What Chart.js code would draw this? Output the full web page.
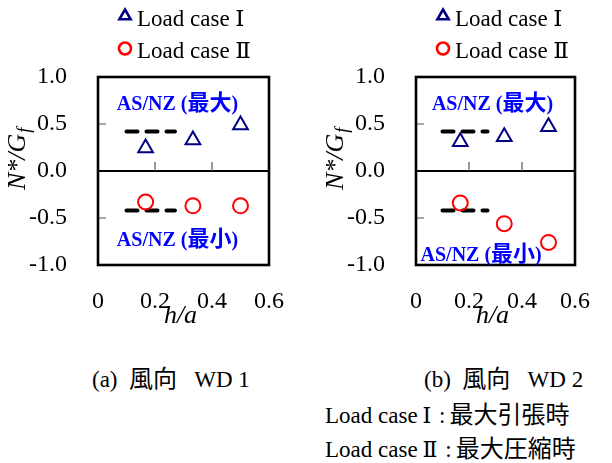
<!DOCTYPE html>
<html>
<head>
<meta charset="utf-8">
<script src="https://cdn.jsdelivr.net/npm/chart.js@4/dist/chart.umd.min.js"></script>
<style>
  html, body { margin: 0; padding: 0; background: #fff; }
  #wrap { position: relative; width: 612px; height: 463px; overflow: hidden; color: #000; }
  .panel { position: absolute; top: 0; width: 306px; height: 340px; }
  .cap { position: absolute; font-size: 23px; line-height: 1; white-space: pre; }
  .lat { font-family: "Liberation Serif", serif; }
  .num { font-family: "DejaVu Serif", "Liberation Serif", serif; font-size: 22px; margin-left: 5px; margin-right: 2px; }
  .cjk { font-family: "Noto Sans CJK JP", sans-serif; font-size: 24px; }
  .colon { margin-right: 4px; }
</style>
</head>
<body>
<div id="wrap">
  <div class="panel" style="left:0"><canvas id="wd1" width="306" height="340"></canvas></div>
  <div class="panel" style="left:306px"><canvas id="wd2" width="306" height="340"></canvas></div>
  <div class="cap" style="left:92px;top:365px"><span class="lat">(a)  </span><span class="cjk">風向</span><span class="lat">   WD 1</span></div>
  <div class="cap" style="left:424px;top:365px"><span class="lat">(b)  </span><span class="cjk">風向</span><span class="lat">   WD 2</span></div>
  <div class="cap" style="left:325px;top:401px"><span class="lat">Load case</span><span class="num">Ⅰ</span><span class="lat colon"> :</span><span class="cjk">最大引張時</span></div>
  <div class="cap" style="left:325px;top:435px"><span class="lat">Load case</span><span class="num">Ⅱ</span><span class="lat colon"> :</span><span class="cjk">最大圧縮時</span></div>
</div>
<script>
// h/a ratios of the three models
const hOverA = [0.167, 0.333, 0.5];

// N*/Gf, wind direction WD 1
const wd1CaseI = [0.245, 0.33, 0.49];
const wd1CaseII = [-0.33, -0.37, -0.37];

// N*/Gf, wind direction WD 2
const wd2CaseI = [0.31, 0.365, 0.47];
const wd2CaseII = [-0.34, -0.56, -0.76];

// AS/NZ design values (max / min) and the h/a range they cover
const asnzRange = [0.1, 0.27];
const asnzMax = 0.42;
const asnzMin = -0.42;

// axis ticks
const xTickValues = [0, 0.2, 0.4, 0.6];
const xTickLabels = ['0', '0.2', '0.4', '0.6'];
const yTickValues = [-1, -0.5, 0, 0.5, 1];
const yTickLabels = ['-1.0', '-0.5', '0.0', '0.5', '1.0'];

const seriesNames = ['Load case Ⅰ', 'Load case Ⅱ'];
const noteMax = 'AS/NZ (最大)';
const noteMin = 'AS/NZ (最小)';

const SERIF = '"Liberation Serif", "DejaVu Serif", "Noto Sans CJK JP", serif';
const CJK = '"Noto Sans CJK JP", sans-serif';
const NAVY = '#000080';
const RED = '#ff0000';
const BLUE = '#0000ff';

// draw a string whose Latin and CJK runs use different faces
function drawMixed(ctx, text, x, y, latinFont, cjkFont) {
  const runs = text.match(/[\u3000-\u9fff\uff00-\uffef]+|[^\u3000-\u9fff\uff00-\uffef]+/g) || [];
  let cx = x;
  runs.forEach(run => {
    ctx.font = /[\u3000-\u9fff\uff00-\uffef]/.test(run) ? cjkFont : latinFont;
    ctx.fillText(run, cx, y);
    cx += ctx.measureText(run).width;
  });
}

// frame, zero line ticks, legend, notes and axis titles
const panelDecor = {
  id: 'panelDecor',
  beforeDatasetsDraw(chart) {
    const { ctx, chartArea: a, scales: { x, y } } = chart;
    const y0 = y.getPixelForValue(0);
    ctx.save();
    ctx.strokeStyle = '#555';
    ctx.lineWidth = 1.2;
    ctx.beginPath();
    [0.5, -0.5].forEach(v => {
      const py = y.getPixelForValue(v);
      ctx.moveTo(a.left, py); ctx.lineTo(a.left + 8, py);
    });
    [0.2, 0.4].forEach(v => {
      const px = x.getPixelForValue(v);
      ctx.moveTo(px, y0); ctx.lineTo(px, y0 - 9);
    });
    ctx.stroke();
    ctx.restore();
  },
  afterDraw(chart, args, opts) {
    const { ctx, chartArea: a, scales: { x, y } } = chart;
    ctx.save();
    // frame
    ctx.strokeStyle = '#000';
    ctx.lineWidth = 2.6;
    ctx.strokeRect(a.left, a.top, a.right - a.left, a.bottom - a.top);

    // legend
    const ds = chart.data.datasets;
    const legendRows = [{ d: ds[0], r: 6.5, cy: 16, base: 26 }, { d: ds[1], r: 6, cy: 48.5, base: 58 }];
    legendRows.forEach(row => {
      ctx.strokeStyle = row.d.borderColor;
      ctx.fillStyle = 'rgba(0,0,0,0)';
      Chart.helpers.drawPoint(ctx, { pointStyle: row.d.pointStyle, radius: row.r, borderWidth: 1.8, rotation: 0 },
        a.left + 27, row.cy);
      ctx.fillStyle = '#000';
      ctx.font = '23px ' + SERIF;
      ctx.textAlign = 'left';
      ctx.textBaseline = 'alphabetic';
      ctx.fillText(row.d.label, a.left + 39, row.base);
    });

    // AS/NZ notes
    ctx.fillStyle = BLUE;
    opts.notes.forEach(n => {
      drawMixed(ctx, n.text, x.getPixelForValue(n.x), y.getPixelForValue(n.y),
        'bold 20px ' + SERIF, 'bold 22px ' + CJK);
    });

    // y title N*/Gf
    ctx.fillStyle = '#000';
    ctx.translate(a.left - 73, 190);
    ctx.rotate(-Math.PI / 2);
    ctx.font = 'italic 26px ' + SERIF;
    ctx.fillText('N*/G', 0, 0);
    const w = ctx.measureText('N*/G').width;
    ctx.font = 'italic 18px ' + SERIF;
    ctx.fillText('f', w + 1, 5);
    ctx.setTransform(1, 0, 0, 1, 0, 0);

    // x title h/a
    ctx.font = 'italic 26px ' + SERIF;
    ctx.textAlign = 'center';
    ctx.fillText('h/a', (a.left + a.right) / 2 - 3, a.bottom + 58);
    ctx.restore();
  }
};

function makePanel(id, caseI, caseII, notes, yAxisWidth, padRight) {
  return new Chart(document.getElementById(id), {
    type: 'scatter',
    data: {
      datasets: [
        { label: seriesNames[0], data: hOverA.map((h, i) => ({ x: h, y: caseI[i] })),
          pointStyle: 'triangle', pointRadius: 8.5, borderWidth: 2,
          borderColor: NAVY, backgroundColor: 'rgba(0,0,0,0)' },
        { label: seriesNames[1], data: hOverA.map((h, i) => ({ x: h, y: caseII[i] })),
          pointStyle: 'circle', pointRadius: 7.5, borderWidth: 2,
          borderColor: RED, backgroundColor: 'rgba(0,0,0,0)' },
        { type: 'line', label: 'AS/NZ max', data: asnzRange.map(h => ({ x: h, y: asnzMax })),
          showLine: true, pointRadius: 0, borderColor: '#000', borderWidth: 4,
          borderDash: [11, 9], borderCapStyle: 'round' },
        { type: 'line', label: 'AS/NZ min', data: asnzRange.map(h => ({ x: h, y: asnzMin })),
          showLine: true, pointRadius: 0, borderColor: '#000', borderWidth: 4,
          borderDash: [11, 9], borderCapStyle: 'round' }
      ]
    },
    options: {
      responsive: false,
      animation: false,
      devicePixelRatio: 1,
      layout: { padding: { top: 77, right: padRight, left: 0, bottom: 0 } },
      plugins: {
        legend: { display: false },
        tooltip: { enabled: false },
        panelDecor: { notes }
      },
      scales: {
        x: {
          type: 'linear', min: 0, max: 0.6,
          grid: { display: false, drawTicks: false },
          border: { display: false },
          ticks: { color: '#000', font: { family: SERIF, size: 24 }, padding: 22,
                   maxRotation: 0, autoSkip: false,
                   callback: (v, i) => xTickLabels[i] },
          afterBuildTicks: s => { s.ticks = xTickValues.map(v => ({ value: v })); },
          afterFit: s => { s.height = 75; }
        },
        y: {
          type: 'linear', min: -1, max: 1,
          grid: { drawTicks: false, lineWidth: 2,
                  color: c => (c.tick && c.tick.value === 0 ? '#000' : 'rgba(0,0,0,0)') },
          border: { display: false },
          ticks: { color: '#000', font: { family: SERIF, size: 24 }, padding: 31,
                   autoSkip: false, callback: (v, i) => yTickLabels[i] },
          afterBuildTicks: s => { s.ticks = yTickValues.map(v => ({ value: v })); },
          afterFit: s => { s.width = yAxisWidth; }
        }
      }
    },
    plugins: [panelDecor]
  });
}

function drawAll() {
  makePanel('wd1', wd1CaseI, wd1CaseII,
    [{ text: noteMax, x: 0.066, y: 0.65 }, { text: noteMin, x: 0.066, y: -0.80 }], 98, 27);
  makePanel('wd2', wd2CaseI, wd2CaseII,
    [{ text: noteMax, x: 0.06, y: 0.65 }, { text: noteMin, x: 0.017, y: -0.957 }], 110, 16);
}

// make sure the faces are ready before the canvases are painted
Promise.all([
  document.fonts.load('24px "Liberation Serif"'),
  document.fonts.load('italic 26px "Liberation Serif"'),
  document.fonts.load('bold 20px "Liberation Serif"'),
  document.fonts.load('23px "DejaVu Serif"', 'Ⅰ'),
  document.fonts.load('bold 22px "Noto Sans CJK JP"', '最大小')
]).catch(() => {}).then(drawAll);
</script>
</body>
</html>
